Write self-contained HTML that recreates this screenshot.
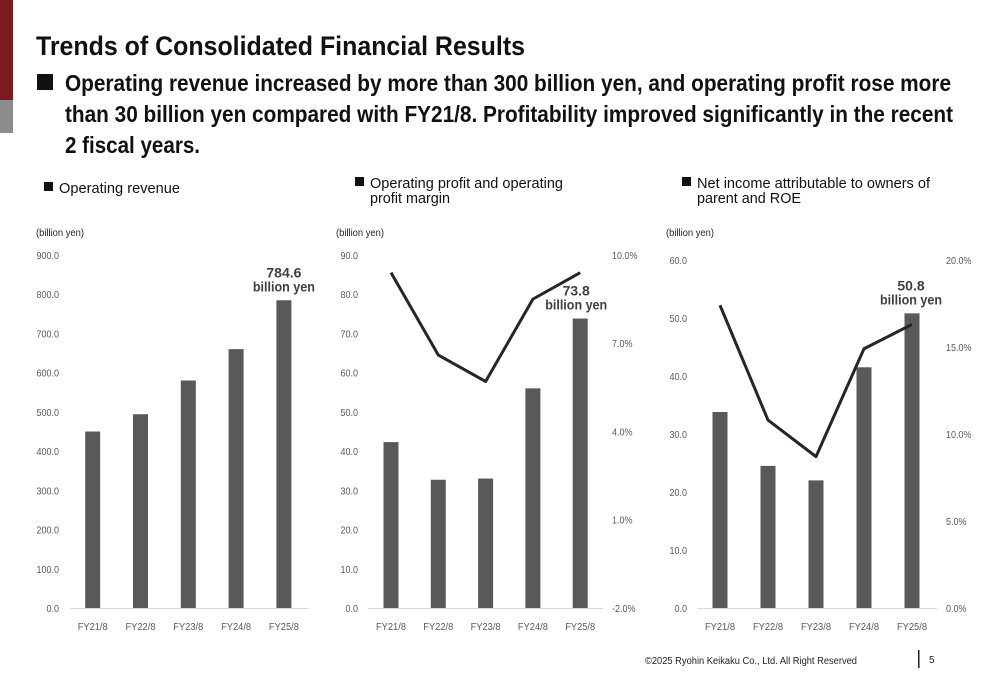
<!DOCTYPE html>
<html><head><meta charset="utf-8"><style>
html,body{margin:0;padding:0;background:#fff;}
svg{display:block;font-family:"Liberation Sans",sans-serif;}
</style></head><body>
<svg id="s" width="1000" height="685" viewBox="0 0 1000 685">
<rect x="0" y="0" width="13" height="100" fill="#7b1a1f"/>
<rect x="0" y="100" width="13" height="33" fill="#8c8c8c"/>
<text x="36" y="55" font-size="27" font-weight="bold" fill="#111" textLength="489" lengthAdjust="spacingAndGlyphs">Trends of Consolidated Financial Results</text>
<rect x="37" y="74" width="16" height="16" fill="#111"/>
<g font-size="23" font-weight="bold" fill="#111">
<text x="65" y="91" textLength="886" lengthAdjust="spacingAndGlyphs">Operating revenue increased by more than 300 billion yen, and operating profit rose more</text>
<text x="65" y="122" textLength="888" lengthAdjust="spacingAndGlyphs">than 30 billion yen compared with FY21/8. Profitability improved significantly in the recent</text>
<text x="65" y="153" textLength="135" lengthAdjust="spacingAndGlyphs">2 fiscal years.</text>
</g>
<g font-size="15" fill="#111">
<rect x="44" y="182" width="9" height="9" fill="#111"/>
<text x="59" y="193" textLength="121" lengthAdjust="spacingAndGlyphs">Operating revenue</text>
<rect x="355" y="177" width="9" height="9" fill="#111"/>
<text x="370" y="188" textLength="193" lengthAdjust="spacingAndGlyphs">Operating profit and operating</text>
<text x="370" y="203" textLength="80" lengthAdjust="spacingAndGlyphs">profit margin</text>
<rect x="682" y="177" width="9" height="9" fill="#111"/>
<text x="697" y="188" textLength="233" lengthAdjust="spacingAndGlyphs">Net income attributable to owners of</text>
<text x="697" y="203" textLength="104" lengthAdjust="spacingAndGlyphs">parent and ROE</text>
</g>
<g font-size="10" fill="#222">
<text x="36" y="236" textLength="48" lengthAdjust="spacingAndGlyphs">(billion yen)</text>
<text x="336" y="236" textLength="48" lengthAdjust="spacingAndGlyphs">(billion yen)</text>
<text x="666" y="236" textLength="48" lengthAdjust="spacingAndGlyphs">(billion yen)</text>
</g>
<text x="645" y="664" font-size="10" fill="#222" textLength="212" lengthAdjust="spacingAndGlyphs">©2025 Ryohin Keikaku Co., Ltd. All Right Reserved</text>
<rect x="918" y="650" width="1.5" height="18" fill="#222"/>
<text x="929" y="663" font-size="10" fill="#222">5</text>
<g id="charts"></g>
</svg>
<script>
const categories=["FY21/8","FY22/8","FY23/8","FY24/8","FY25/8"];
const revenue=[450,494,580,660,784.6];
const opProfit=[42.3,32.7,33.0,56.0,73.8];
const opMargin=[9.4,6.6,5.7,8.5,9.4];
const netIncome=[33.8,24.5,22.0,41.5,50.8];
const roe=[17.4,10.8,8.7,14.9,16.3];
const leftTicks1=["0.0","100.0","200.0","300.0","400.0","500.0","600.0","700.0","800.0","900.0"];
const leftTicks2=["0.0","10.0","20.0","30.0","40.0","50.0","60.0","70.0","80.0","90.0"];
const rightTicks2=["-2.0%","1.0%","4.0%","7.0%","10.0%"];
const leftTicks3=["0.0","10.0","20.0","30.0","40.0","50.0","60.0"];
const rightTicks3=["0.0%","5.0%","10.0%","15.0%","20.0%"];
const annot=["784.6","73.8","50.8"];

const NS="http://www.w3.org/2000/svg";
const root=document.getElementById('charts');
function mk(tag,attrs,parent){const e=document.createElementNS(NS,tag);for(const k in attrs)e.setAttribute(k,attrs[k]);(parent||root).appendChild(e);return e;}
function chart(o){
  const g=mk('g',{});
  
  
  const y=v=>o.y0-(v-o.lmin)/(o.lmax-o.lmin)*(o.y0-o.y1);
  const x=i=>o.x0+i*o.step;
  o.lticks.forEach((t,i)=>{const v=o.lmin+i*(o.lmax-o.lmin)/(o.lticks.length-1);
    const e=mk('text',{x:o.lx,y:y(v)+4,'font-size':10,fill:'#595959','text-anchor':'end',transform:`translate(${o.lx},0) scale(0.9,1) translate(${-o.lx},0)`},g);e.textContent=t;
    });
  o.vals.forEach((v,i)=>{const r=mk('rect',{x:x(i)-7.5,y:y(v),width:15,height:o.y0-y(v),fill:'#595959'},g);
    });
  const ax=mk('line',{x1:o.ax1,x2:o.ax2,y1:o.y0+0.5,y2:o.y0+0.5,stroke:'#d9d9d9','stroke-width':1},g);
  
  categories.forEach((c,i)=>{const e=mk('text',{x:x(i),y:o.y0+22,'font-size':10,fill:'#595959','text-anchor':'middle',textLength:30,lengthAdjust:'spacingAndGlyphs'},g);e.textContent=c;
    });
  if(o.line){
    const ry=v=>o.y0-(v-o.rmin)/(o.rmax-o.rmin)*(o.y0-o.y1);
    o.rticks.forEach((t,i)=>{const v=o.rmin+i*(o.rmax-o.rmin)/(o.rticks.length-1);
      const e=mk('text',{x:o.rx,y:ry(v)+4,'font-size':10,fill:'#595959',transform:`translate(${o.rx},0) scale(0.9,1) translate(${-o.rx},0)`},g);e.textContent=t;
      });
    const p=mk('polyline',{points:o.line.map((v,i)=>x(i)+','+ry(v)).join(' '),fill:'none',stroke:'#262626','stroke-width':3,'stroke-linejoin':'round'},g);
    
  }
  const last=o.vals.length-1, ty=y(o.vals[last]);
  const a=mk('text',{x:x(last)+o.boff,y:ty-23,'font-size':14,'font-weight':'bold',fill:'#404040','text-anchor':'middle'},g);a.textContent=o.annot;
  
  const b=mk('text',{x:x(last)+o.boff,y:ty-9,'font-size':14,'font-weight':'bold',fill:'#404040','text-anchor':'middle',textLength:62,lengthAdjust:'spacingAndGlyphs'},g);b.textContent='billion yen';
  
}
chart({name:'operating-revenue-chart',vals:revenue,lticks:leftTicks1,lmin:0,lmax:900,y0:608,y1:255,x0:92.7,step:47.8,lx:59,ax1:70,ax2:308,annot:annot[0],boff:0});
chart({name:'operating-profit-chart',vals:opProfit,lticks:leftTicks2,lmin:0,lmax:90,y0:608,y1:255,x0:391,step:47.3,lx:358,ax1:368,ax2:603,line:opMargin,rticks:rightTicks2,rmin:-2,rmax:10,rx:612,annot:annot[1],boff:-4});
chart({name:'net-income-chart',vals:netIncome,lticks:leftTicks3,lmin:0,lmax:60,y0:608,y1:260,x0:720,step:48,lx:687,ax1:697,ax2:937,line:roe,rticks:rightTicks3,rmin:0,rmax:20,rx:946,annot:annot[2],boff:-1});
</script>
</body></html>
